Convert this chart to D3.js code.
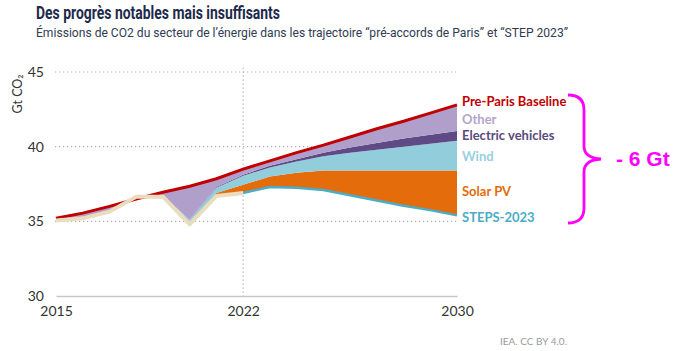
<!DOCTYPE html>
<html>
<head>
<meta charset="utf-8">
<script src="https://cdn.jsdelivr.net/npm/d3@7"></script>
<style>
  body { margin: 0; background: #fff; }
</style>
</head>
<body>
<svg id="chart" width="680" height="351"></svg>
<script>
// data (Gt CO2)
const years = [2015, 2016, 2017, 2018, 2019, 2020, 2021, 2022, 2023, 2024, 2025, 2026, 2027, 2028, 2029, 2030];
// historical until 2022, then STEPS-2023
const emissions = [35.05, 35.2, 35.65, 36.65, 36.65, 34.8, 36.7, 36.9, 37.3, 37.25, 37.1, 36.75, 36.4, 36.05, 35.75, 35.4];
// upper edge of each wedge
const solarTop = [35.05, 35.2, 35.65, 36.5, 36.65, 34.95, 36.9, 37.45, 38.0, 38.25, 38.4, 38.4, 38.4, 38.4, 38.4, 38.4];
const windTop  = [35.1, 35.25, 35.7, 36.5, 36.7, 35.1, 37.25, 38.05, 38.6, 39.0, 39.35, 39.6, 39.8, 40.0, 40.2, 40.4];
const evTop    = [35.1, 35.25, 35.7, 36.5, 36.7, 35.1, 37.3, 38.12, 38.72, 39.15, 39.6, 39.95, 40.25, 40.55, 40.8, 41.05];
const baseline = [35.2, 35.55, 36.0, 36.5, 36.95, 37.35, 37.85, 38.5, 39.05, 39.6, 40.1, 40.65, 41.2, 41.7, 42.25, 42.8];

const yTicks = [30, 35, 40, 45];
const xTicks = [2015, 2022, 2030];

const svg = d3.select('#chart');

const x = d3.scaleLinear().domain([2015, 2030]).range([56, 457]);
const y = d3.scaleLinear().domain([30, 45]).range([296, 72]);

// Title
svg.append('text')
	.attr('x', 36).attr('y', 19)
	.style('font-family', 'Roboto, sans-serif')
	.style('font-weight', 700)
	.style('font-size', '19px')
	.attr('fill', '#1d2a4a')
	.attr('textLength', 244)
	.attr('lengthAdjust', 'spacingAndGlyphs')
	.text('Des progrès notables mais insuffisants');

svg.append('text')
	.attr('x', 36).attr('y', 37)
	.style('font-family', 'Roboto, sans-serif')
	.style('font-size', '13.5px')
	.attr('fill', '#2f3b52')
	.attr('textLength', 532)
	.attr('lengthAdjust', 'spacingAndGlyphs')
	.text('Émissions de CO2 du secteur de l’énergie dans les trajectoire “pré-accords de Paris” et “STEP 2023”');

// Grid
const grid = svg.append('g');
grid.selectAll('line.h')
	.data(yTicks.filter(d => d > 30))
	.enter().append('line')
	.attr('x1', 55).attr('x2', 457)
	.attr('y1', d => y(d)).attr('y2', d => y(d))
	.attr('stroke', '#b0b0b0')
	.attr('stroke-width', 1.2)
	.attr('stroke-dasharray', '1.2,2.8');

grid.append('line')
	.attr('x1', x(2022)).attr('x2', x(2022))
	.attr('y1', y(45.3)).attr('y2', y(30))
	.attr('stroke', '#b0b0b0')
	.attr('stroke-width', 1.2)
	.attr('stroke-dasharray', '1.2,2.8');

// Axes
const yAxis = svg.append('g')
	.attr('transform', 'translate(56,0)')
	.call(d3.axisLeft(y).tickValues(yTicks).tickSize(0).tickPadding(12));
yAxis.select('.domain').remove();
yAxis.selectAll('text')
	.style('font-family', 'Lato, sans-serif')
	.style('font-size', '14px')
	.attr('fill', '#333');

const xAxis = svg.append('g')
	.attr('transform', `translate(0,${y(30)})`)
	.call(d3.axisBottom(x).tickValues(xTicks).tickFormat(d3.format('d')).tickSize(0).tickPadding(10));
xAxis.select('.domain')
	.attr('stroke', '#c6c6c6')
	.attr('stroke-width', 1.5);
xAxis.selectAll('text')
	.style('font-family', 'Lato, sans-serif')
	.style('font-size', '14px')
	.attr('fill', '#333');

svg.append('text')
	.attr('transform', 'translate(22,94) rotate(-90)')
	.attr('text-anchor', 'middle')
	.style('font-family', 'Lato, sans-serif')
	.style('font-size', '12.5px')
	.attr('fill', '#333')
	.text('Gt CO₂');

// Stacked wedges
const rows = years.map((yr, i) => ({
	year: yr, emissions: emissions[i], solarTop: solarTop[i],
	windTop: windTop[i], evTop: evTop[i], baseline: baseline[i]
}));

const layers = [
	{ lo: 'emissions', hi: 'solarTop', color: '#e46c0a' },
	{ lo: 'solarTop', hi: 'windTop', color: '#92cddc' },
	{ lo: 'windTop', hi: 'evTop', color: '#5f4a85' },
	{ lo: 'evTop', hi: 'baseline', color: '#b09fcb' }
];

svg.append('g')
	.selectAll('path')
	.data(layers)
	.enter().append('path')
	.attr('fill', d => d.color)
	.attr('d', l => d3.area()
		.x(d => x(d.year))
		.y0(d => y(d[l.lo]))
		.y1(d => y(d[l.hi]))(rows));

// Lines
svg.append('path')
	.datum(rows)
	.attr('fill', 'none')
	.attr('stroke', '#c00000')
	.attr('stroke-width', 3)
	.attr('d', d3.line().x(d => x(d.year)).y(d => y(d.baseline)));

svg.append('path')
	.datum(rows.filter(d => d.year >= 2022))
	.attr('fill', 'none')
	.attr('stroke', '#4bacc6')
	.attr('stroke-width', 2.5)
	.attr('d', d3.line().x(d => x(d.year)).y(d => y(d.emissions)));

svg.append('path')
	.datum(rows.filter(d => d.year <= 2022))
	.attr('fill', 'none')
	.attr('stroke', '#e9dcbf')
	.attr('stroke-width', 4)
	.attr('stroke-linejoin', 'round')
	.attr('d', d3.line().x(d => x(d.year)).y(d => y(d.emissions)));

// Right-hand labels
const labels = [
	{ text: 'Pre-Paris Baseline', y: 101, color: '#c00000' },
	{ text: 'Other', y: 119, color: '#b3a5ca' },
	{ text: 'Electric vehicles', y: 135, color: '#5b4a7e' },
	{ text: 'Wind', y: 156, color: '#98d0e0' },
	{ text: 'Solar PV', y: 191, color: '#e46c0a' },
	{ text: 'STEPS-2023', y: 217, color: '#4bacc6' }
];
svg.append('g')
	.selectAll('text')
	.data(labels)
	.enter().append('text')
	.attr('x', 462)
	.attr('y', d => d.y)
	.attr('dy', '0.35em')
	.style('font-family', 'Lato, sans-serif')
	.style('font-weight', 700)
	.style('font-size', '13px')
	.attr('fill', d => d.color)
	.text(d => d.text);

// Brace + annotation
svg.append('path')
	.attr('d', 'M568,95 Q584,95 584,110 L584,146 Q584,158 601,159 Q584,160 584,172 L584,208 Q584,223 568,223')
	.attr('fill', 'none')
	.attr('stroke', '#f0f')
	.attr('stroke-width', 2.8);

svg.append('text')
	.attr('x', 616).attr('y', 159)
	.attr('dy', '0.35em')
	.style('font-family', '"Liberation Sans", Arial, sans-serif')
	.style('font-weight', 700)
	.style('font-size', '21px')
	.attr('fill', '#f0f')
	.text('- 6 Gt');

svg.append('text')
	.attr('x', 500).attr('y', 345)
	.style('font-family', 'Lato, sans-serif')
	.style('font-size', '10px')
	.attr('fill', '#9a9a9a')
	.text('IEA. CC BY 4.0.');
</script>
</body>
</html>
